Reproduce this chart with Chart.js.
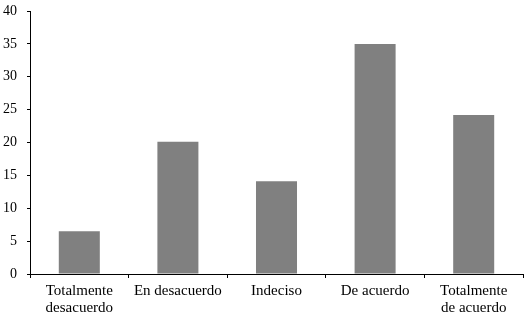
<!DOCTYPE html>
<html>
<head>
<meta charset="utf-8">
<script src="https://cdn.jsdelivr.net/npm/chart.js@4/dist/chart.umd.min.js"></script>
<style>
  html, body { margin: 0; padding: 0; background: #fff; }
  canvas { display: block; }
</style>
</head>
<body>
<canvas id="barChart" width="526" height="318"></canvas>
<script>
const categories = [
    ['Totalmente', 'desacuerdo'],
    'En desacuerdo',
    'Indeciso',
    'De acuerdo',
    ['Totalmente', 'de acuerdo']
];
const values = [6.5, 20.1, 14.1, 35, 24.2];
const yTicks = [0, 5, 10, 15, 20, 25, 30, 35, 40];

const serif = "'Liberation Serif', 'DejaVu Serif', serif";

const ctx = document.getElementById('barChart').getContext('2d');
new Chart(ctx, {
    type: 'bar',
    data: {
        labels: categories,
        datasets: [{
            data: values,
            backgroundColor: '#808080',
            borderWidth: 0,
            categoryPercentage: 1,
            barPercentage: 0.416
        }]
    },
    options: {
        responsive: false,
        animation: false,
        layout: { padding: { top: 11, right: 3, left: 0, bottom: 0 } },
        plugins: { legend: { display: false }, tooltip: { enabled: false } },
        scales: {
            x: {
                grid: { display: true, drawOnChartArea: false, drawTicks: true, tickLength: 4, color: '#000', offset: true },
                border: { display: true, color: '#000', width: 1 },
                ticks: { color: '#000', font: { family: serif, size: 15, lineHeight: 1.15 }, padding: 4, maxRotation: 0, autoSkip: false },
                afterFit: s => { s.height = 44; s.paddingLeft = 0; s.paddingRight = 0; }
            },
            y: {
                min: 0,
                max: 40,
                afterBuildTicks: s => { s.ticks = yTicks.map(v => ({ value: v })); },
                grid: { display: true, drawOnChartArea: false, drawTicks: true, tickLength: 3, color: '#000' },
                border: { display: true, color: '#000', width: 1 },
                ticks: { color: '#000', font: { family: serif, size: 14 }, padding: 10 },
                afterFit: s => { s.width = 30; s.paddingTop = 0; s.paddingBottom = 0; }
            }
        }
    }
});
</script>
</body>
</html>
